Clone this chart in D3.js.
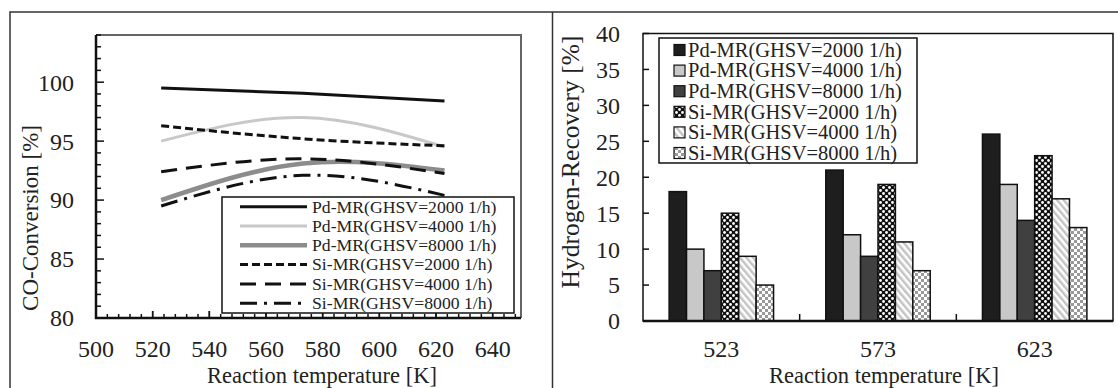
<!DOCTYPE html>
<html>
<head>
<meta charset="utf-8">
<script src="https://cdn.jsdelivr.net/npm/d3@7"></script>
<style>
  body { margin: 0; background: #fff; }
  svg text { font-family: "Liberation Serif", "Times New Roman", serif; fill: #222; }
</style>
</head>
<body>
<svg id="chart" width="1118" height="388"></svg>
<script>
// ---- data ----
var seriesNames = ["Pd-MR(GHSV=2000 1/h)", "Pd-MR(GHSV=4000 1/h)", "Pd-MR(GHSV=8000 1/h)",
                   "Si-MR(GHSV=2000 1/h)", "Si-MR(GHSV=4000 1/h)", "Si-MR(GHSV=8000 1/h)"];
var temps = [523, 573, 623];
// CO conversion [%]
var coPd2000 = [99.5, 99.05, 98.4];
var coPd4000 = [95.0, 97.0, 94.5];
var coPd8000 = [90.0, 93.1, 92.5];
var coSi2000 = [96.3, 95.2, 94.6];
var coSi4000 = [92.4, 93.5, 92.25];
var coSi8000 = [89.5, 92.1, 90.4];
// hydrogen recovery [%]
var hrPd2000 = [18, 21, 26];
var hrPd4000 = [10, 12, 19];
var hrPd8000 = [7, 9, 14];
var hrSi2000 = [15, 19, 23];
var hrSi4000 = [9, 11, 17];
var hrSi8000 = [5, 7, 13];
var xTicksLeft = [500, 520, 540, 560, 580, 600, 620, 640];
var yTicksLeft = [80, 85, 90, 95, 100];
var yTicksRight = [0, 5, 10, 15, 20, 25, 30, 35, 40];

var coSeries = [coPd2000, coPd4000, coPd8000, coSi2000, coSi4000, coSi8000];
var hrSeries = [hrPd2000, hrPd4000, hrPd8000, hrSi2000, hrSi4000, hrSi8000];

var lineStyle = [
    {stroke: "#111", width: 3, dash: null},
    {stroke: "#c8c8c8", width: 3, dash: null},
    {stroke: "#8c8c8c", width: 4.5, dash: null},
    {stroke: "#111", width: 3, dash: "8,4"},
    {stroke: "#111", width: 3, dash: "16,9"},
    {stroke: "#111", width: 3, dash: "17,7,3,7"}
];

var svg = d3.select("#chart");
var defs = svg.append("defs");

// patterns for Si bars
var p1 = defs.append("pattern").attr("id", "pSi2000").attr("patternUnits", "userSpaceOnUse")
    .attr("width", 6).attr("height", 6);
p1.append("rect").attr("width", 6).attr("height", 6).attr("fill", "#111");
p1.append("circle").attr("cx", 1.5).attr("cy", 1.5).attr("r", 1.4).attr("fill", "#fff");
p1.append("circle").attr("cx", 4.5).attr("cy", 4.5).attr("r", 1.4).attr("fill", "#fff");

var p2 = defs.append("pattern").attr("id", "pSi4000").attr("patternUnits", "userSpaceOnUse")
    .attr("width", 5).attr("height", 5).attr("patternTransform", "rotate(-40)");
p2.append("rect").attr("width", 5).attr("height", 5).attr("fill", "#fff");
p2.append("rect").attr("width", 2.5).attr("height", 5).attr("fill", "#c4c4c4");

var p3 = defs.append("pattern").attr("id", "pSi8000").attr("patternUnits", "userSpaceOnUse")
    .attr("width", 6).attr("height", 6);
p3.append("rect").attr("width", 6).attr("height", 6).attr("fill", "#fff");
p3.append("rect").attr("width", 3).attr("height", 3).attr("fill", "#999");
p3.append("rect").attr("x", 3).attr("y", 3).attr("width", 3).attr("height", 3).attr("fill", "#999");

var barFill = ["#1e1e1e", "#c8c8c8", "#404040", "url(#pSi2000)", "url(#pSi4000)", "url(#pSi8000)"];

// panel frames
svg.append("path").attr("d", "M10,400 V12 H1130 M552.5,12 V400")
    .attr("fill", "none").attr("stroke", "#333").attr("stroke-width", 1.5);

// ================= left panel =================
var L = {left: 96, right: 521, top: 35, bottom: 318};
var xL = d3.scaleLinear().domain([500, 650]).range([L.left, L.right]);
var yL = d3.scaleLinear().domain([80, 104]).range([L.bottom, L.top]);

// top/right frame
svg.append("path").attr("d", "M" + L.left + "," + L.top + " H" + L.right + " V" + L.bottom)
    .attr("fill", "none").attr("stroke", "#666").attr("stroke-width", 2);

// minor/major ticks (inward)
var gL = svg.append("g");
d3.range(80, 104.01, 1).forEach(function (v) {
    var len = (v % 5 === 0) ? 8 : 5;
    gL.append("line").attr("x1", L.left).attr("x2", L.left + len)
        .attr("y1", yL(v)).attr("y2", yL(v)).attr("stroke", "#111").attr("stroke-width", 1.5);
});
d3.range(500, 650.01, 4).forEach(function (v) {
    var len = (v % 20 === 0) ? 7 : 4;
    gL.append("line").attr("x1", xL(v)).attr("x2", xL(v))
        .attr("y1", L.bottom).attr("y2", L.bottom - len).attr("stroke", "#111").attr("stroke-width", 1.5);
});
xTicksLeft.forEach(function (v) {
    gL.append("line").attr("x1", xL(v)).attr("x2", xL(v))
        .attr("y1", L.bottom).attr("y2", L.bottom - 7).attr("stroke", "#111").attr("stroke-width", 1.5);
});
// axis lines
svg.append("path").attr("d", "M" + L.left + "," + L.top + " V" + L.bottom + " H" + L.right)
    .attr("fill", "none").attr("stroke", "#111").attr("stroke-width", 2.5);

// tick labels
gL.selectAll(".ylab").data(yTicksLeft).enter().append("text")
    .attr("x", 74).attr("y", function (d) { return yL(d); })
    .attr("dy", "0.35em").attr("text-anchor", "end").attr("font-size", 24)
    .text(function (d) { return d; });
gL.selectAll(".xlab").data(xTicksLeft).enter().append("text")
    .attr("x", function (d) { return xL(d); }).attr("y", 357)
    .attr("text-anchor", "middle").attr("font-size", 24)
    .text(function (d) { return d; });
svg.append("text").attr("transform", "translate(38,218) rotate(-90)")
    .attr("text-anchor", "middle").attr("font-size", 23).text("CO-Conversion [%]");
svg.append("text").attr("x", 322).attr("y", 383)
    .attr("text-anchor", "middle").attr("font-size", 22.5).text("Reaction temperature [K]");

// curves
var line = d3.line()
    .x(function (d, i) { return xL(temps[i]); })
    .y(function (d) { return yL(d); })
    .curve(d3.curveNatural);
var drawOrder = [1, 2, 0, 3, 4, 5];
drawOrder.forEach(function (k) {
    svg.append("path").datum(coSeries[k]).attr("d", line)
        .attr("fill", "none").attr("stroke", lineStyle[k].stroke)
        .attr("stroke-width", lineStyle[k].width)
        .attr("stroke-dasharray", lineStyle[k].dash);
});

// left legend
var legL = svg.append("g");
legL.append("rect").attr("x", 222).attr("y", 197).attr("width", 292).attr("height", 116)
    .attr("fill", "#fff").attr("stroke", "#111").attr("stroke-width", 1.5);
seriesNames.forEach(function (name, i) {
    var yy = 206.7 + i * 19.3;
    legL.append("line").attr("x1", 240).attr("x2", 307).attr("y1", yy).attr("y2", yy)
        .attr("stroke", lineStyle[i].stroke).attr("stroke-width", lineStyle[i].width)
        .attr("stroke-dasharray", lineStyle[i].dash);
    legL.append("text").attr("x", 312).attr("y", yy).attr("dy", "0.33em")
        .attr("font-size", 17.7).text(name);
});

// ================= right panel =================
var R = {left: 643, right: 1113, top: 33.5, bottom: 321};
var x0 = d3.scaleBand().domain(temps).range([R.left, R.right]);
var x1 = d3.scaleBand().domain(d3.range(6)).range([0, x0.bandwidth()]).paddingOuter(1.5);
var yR = d3.scaleLinear().domain([0, 40]).range([R.bottom, R.top]);

var gR = svg.append("g");
temps.forEach(function (t, ti) {
    hrSeries.forEach(function (s, k) {
        gR.append("rect").attr("x", x0(t) + x1(k)).attr("y", yR(s[ti]))
            .attr("width", x1.bandwidth()).attr("height", R.bottom - yR(s[ti]))
            .attr("fill", barFill[k]).attr("stroke", "#111").attr("stroke-width", 1.5);
    });
});
// frame
svg.append("rect").attr("x", R.left).attr("y", R.top)
    .attr("width", R.right - R.left).attr("height", R.bottom - R.top)
    .attr("fill", "none").attr("stroke", "#111").attr("stroke-width", 1.5);
svg.append("line").attr("x1", R.left).attr("x2", R.right).attr("y1", R.bottom).attr("y2", R.bottom)
    .attr("stroke", "#111").attr("stroke-width", 2.5);
// y ticks inward
yTicksRight.forEach(function (v) {
    gR.append("line").attr("x1", R.left).attr("x2", R.left + 6).attr("y1", yR(v)).attr("y2", yR(v))
        .attr("stroke", "#111").attr("stroke-width", 1.5);
});
// category separators
temps.slice(1).forEach(function (t) {
    gR.append("line").attr("x1", x0(t)).attr("x2", x0(t)).attr("y1", R.bottom).attr("y2", R.bottom - 7)
        .attr("stroke", "#111").attr("stroke-width", 1.5);
});
gR.selectAll(".ylab").data(yTicksRight).enter().append("text")
    .attr("x", 620).attr("y", function (d) { return yR(d); })
    .attr("dy", "0.35em").attr("text-anchor", "end").attr("font-size", 24)
    .text(function (d) { return d; });
gR.selectAll(".xlab").data(temps).enter().append("text")
    .attr("x", function (d) { return x0(d) + x0.bandwidth() / 2; }).attr("y", 357)
    .attr("text-anchor", "middle").attr("font-size", 24)
    .text(function (d) { return d; });
svg.append("text").attr("transform", "translate(579,162) rotate(-90)")
    .attr("text-anchor", "middle").attr("font-size", 25.5).text("Hydrogen-Recovery [%]");
svg.append("text").attr("x", 884).attr("y", 383)
    .attr("text-anchor", "middle").attr("font-size", 22.5).text("Reaction temperature [K]");

// right legend
var legR = svg.append("g");
legR.append("rect").attr("x", 659).attr("y", 38).attr("width", 258).attr("height", 125)
    .attr("fill", "#fff").attr("stroke", "#111").attr("stroke-width", 1.5);
seriesNames.forEach(function (name, i) {
    var yy = 50 + i * 20.6;
    legR.append("rect").attr("x", 674).attr("y", yy - 5.5).attr("width", 11).attr("height", 11)
        .attr("fill", barFill[i]).attr("stroke", "#111").attr("stroke-width", 1.2);
    legR.append("text").attr("x", 688).attr("y", yy).attr("dy", "0.33em")
        .attr("font-size", 20.5).text(name);
});
</script>
</body>
</html>
